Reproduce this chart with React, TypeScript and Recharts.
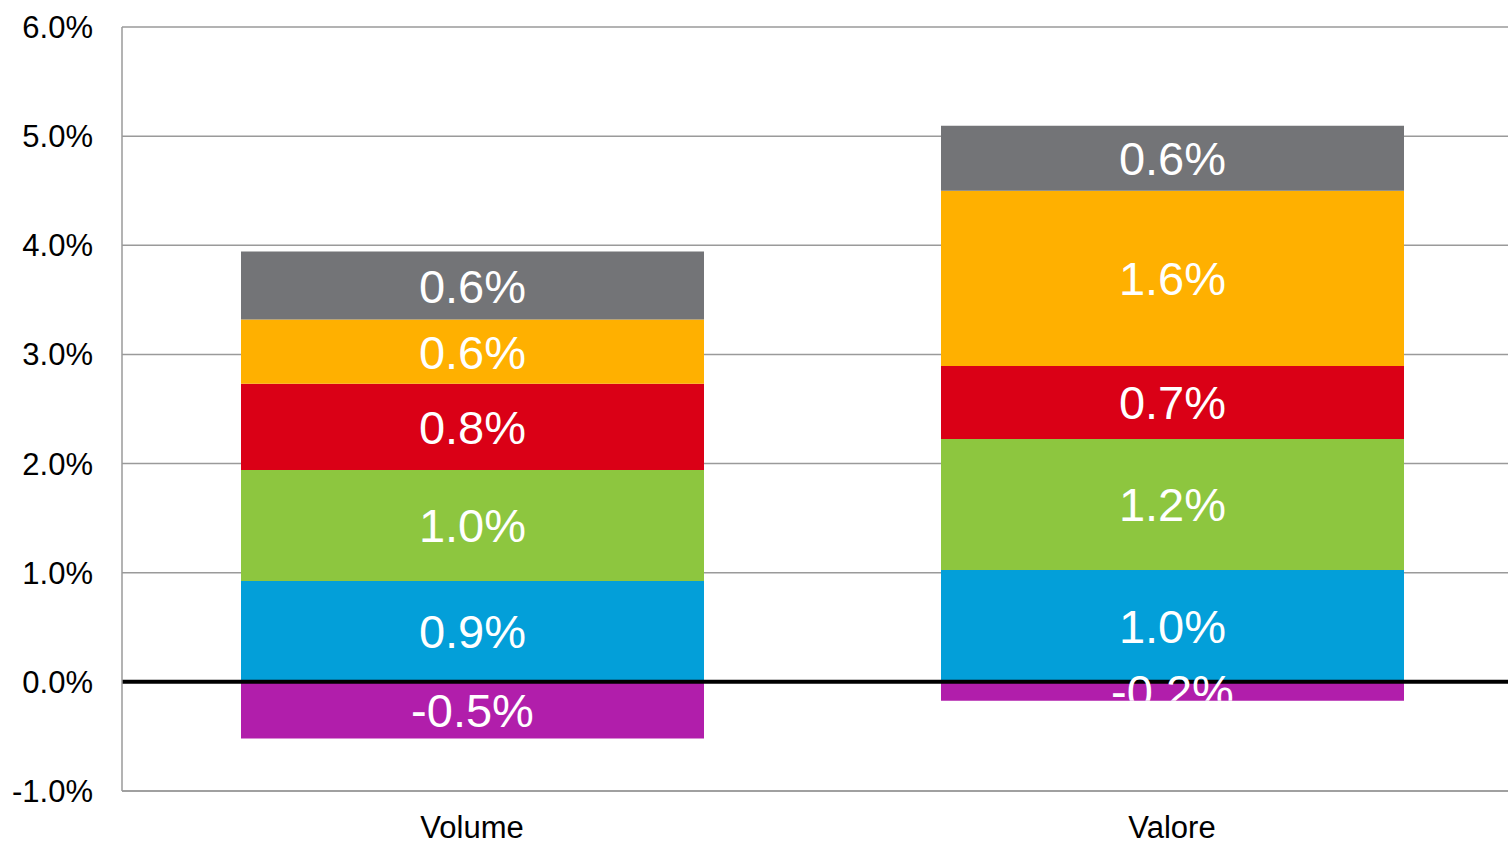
import React from 'react';
import { BarChart, Bar, XAxis, YAxis, CartesianGrid, ReferenceLine, LabelList } from 'recharts';

const categories = ['Volume', 'Valore'];
const seriesNames = ['s1', 's2', 's3', 's4', 's5', 's6'];
const seriesColors = ['#B11EAB', '#039FD9', '#8DC63F', '#DA0016', '#FFB000', '#737477'];
const purpleValues = [-0.52, -0.174];
const blueValues = [0.925, 1.026];
const greenValues = [1.017, 1.2];
const redValues = [0.79, 0.669];
const orangeValues = [0.587, 1.604];
const grayValues = [0.623, 0.596];
const yTicks = [-1, 0, 1, 2, 3, 4, 5, 6];

const seriesValues = [purpleValues, blueValues, greenValues, redValues, orangeValues, grayValues];

const data = categories.map((c, i) => {
  const row: Record<string, any> = { name: c };
  seriesNames.forEach((s, k) => {
    row[s] = seriesValues[k][i];
  });
  return row;
});

const FONT = '"Liberation Sans", Arial, sans-serif';

const makeLabel = (sKey: string) => (props: any) => {
  const { x, y, width, height, value, index } = props;
  if (value == null) return null;
  const top = Math.min(y, y + height);
  const h = Math.abs(height);
  const id = `clip-${sKey}-${index}`;
  const cx = x + width / 2;
  const cy = top + h / 2 + 17;
  return (
    <g>
      <defs>
        <clipPath id={id}>
          <rect x={x} y={top - 100} width={width} height={h + 100} />
        </clipPath>
      </defs>
      <text
        x={cx}
        y={cy}
        textAnchor="middle"
        fill="#ffffff"
        fontSize={47}
        fontFamily={FONT}
        clipPath={`url(#${id})`}
      >
        {Number(value).toFixed(1) + '%'}
      </text>
    </g>
  );
};

export default function App() {
  return (
    <div style={{ position: 'absolute', left: 0, top: 0, width: 1508, height: 841, overflow: 'hidden', background: '#fff' }}>
      <BarChart
        width={1522}
        height={841}
        data={data}
        stackOffset="sign"
        margin={{ top: 27, right: 0, bottom: 0, left: 0 }}
      >
        <CartesianGrid vertical={false} stroke="#9a9a9a" strokeWidth={1.5} />
        <XAxis
          dataKey="name"
          height={50}
          tickLine={false}
          tickSize={0}
          tickMargin={25}
          axisLine={{ stroke: '#9a9a9a', strokeWidth: 1.5 }}
          tick={{ fill: '#000', fontSize: 31, fontFamily: FONT }}
        />
        <YAxis
          width={122}
          domain={[-1, 6]}
          ticks={yTicks}
          interval={0}
          tickLine={false}
          tickSize={0}
          tickMargin={29}
          axisLine={{ stroke: '#9a9a9a', strokeWidth: 1.5 }}
          tickFormatter={(v: number) => v.toFixed(1) + '%'}
          tick={{ fill: '#000', fontSize: 31, fontFamily: FONT }}
        />
        {seriesNames.map((s, k) => (
          <Bar key={s} dataKey={s} stackId="a" fill={seriesColors[k]} barSize={463} isAnimationActive={false}>
            <LabelList dataKey={s} content={makeLabel(s)} />
          </Bar>
        ))}
        <ReferenceLine y={0} stroke="#000" strokeWidth={4} />
      </BarChart>
    </div>
  );
}
